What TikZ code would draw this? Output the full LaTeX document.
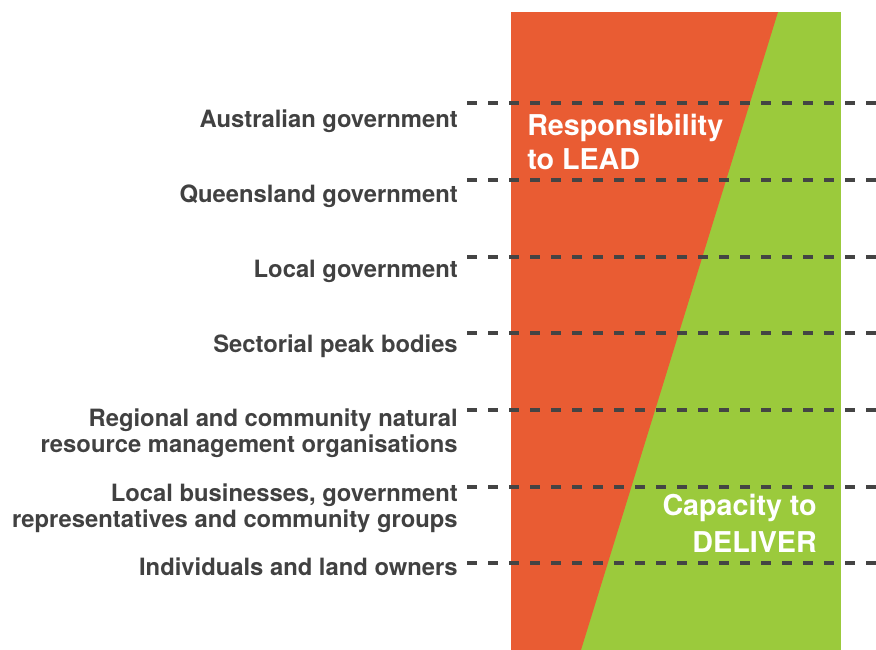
\documentclass[tikz,border=0pt]{standalone}
\usepackage{fontspec}
\setmainfont{TeX Gyre Heros}
\usepackage{tikz}
\definecolor{leadorange}{HTML}{E95C33}
\definecolor{delivergreen}{HTML}{9BCA3C}
\definecolor{labelgray}{HTML}{414141}
\definecolor{dashgray}{HTML}{444444}
\tikzset{
  tierlabel/.style={anchor=base east,inner sep=0pt,align=right,text=labelgray,
    font=\fontsize{17.85}{19.2}\selectfont\bfseries},
  bigword/.style={inner sep=0pt,text=white,
    font=\fontsize{21.5}{#1}\selectfont\bfseries},
  rowline/.style={dashgray,line width=2.3pt,dash pattern=on 7.5pt off 8.25pt}
}

\begin{document}
\begin{tikzpicture}[x=0.75pt,y=0.75pt,yscale=-1,xscale=1]
\useasboundingbox (0,0) rectangle (876,650);

%Shape: Green block
\fill[delivergreen] (511,12) rectangle (841,650);
%Shape: Orange wedge
\fill[leadorange] (511,12) -- (778,12) -- (581,650) -- (511,650) -- cycle;

%Straight Lines: dashed rows
\foreach \yy in {103,180,257,333,410,487,563}
  \draw[rowline] (467,\yy) -- (876,\yy);

% Text Node
\node[tierlabel] (aus) at (458,127) {Australian government};
% Text Node
\node[tierlabel] (qld) at (458,202) {Queensland government};
% Text Node
\node[tierlabel] (localgov) at (458,277) {Local government};
% Text Node
\node[tierlabel] (peak) at (458,352) {Sectorial peak bodies};
% Text Node
\node[tierlabel] (nrm) at (458,452) {Regional and community natural\\resource management organisations};
% Text Node
\node[tierlabel] (business) at (458,527) {Local businesses, government\\representatives and community groups};
% Text Node
\node[tierlabel] (owners) at (458,575) {Individuals and land owners};

% Text Node
\node[bigword=25.5pt,anchor=base west,align=left] (lead) at (527,169) {Responsibility\\to LEAD};
% Text Node
\node[bigword=27.75pt,anchor=base east,align=right] (deliver) at (817,552) {Capacity to\\DELIVER};

\end{tikzpicture}
\end{document}
